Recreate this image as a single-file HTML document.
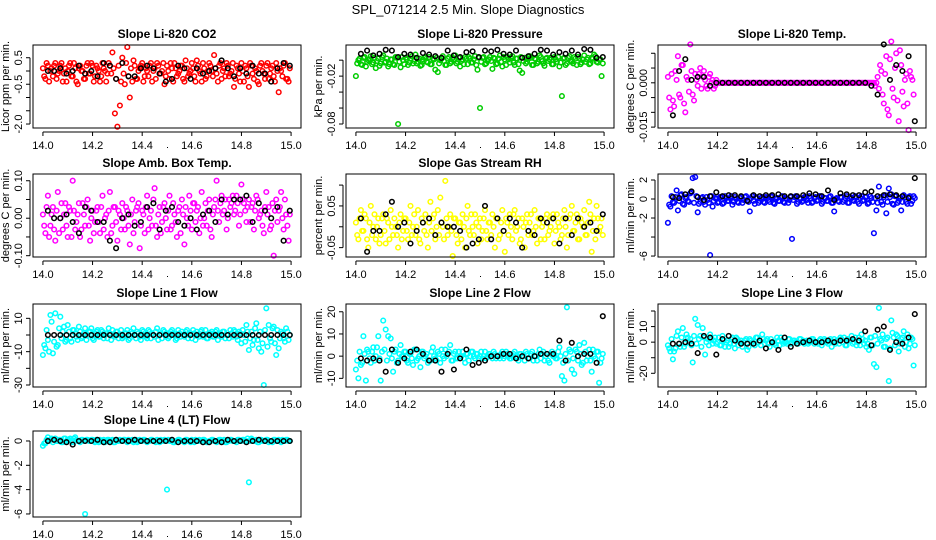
<!DOCTYPE html>
<html><head><meta charset="utf-8"><style>
html,body{margin:0;padding:0;background:#fff;}
svg{display:block;font-family:"Liberation Sans",Arial,sans-serif;}
</style></head><body>
<svg id="chart" width="936" height="540" viewBox="0 0 936 540">
<rect width="936" height="540" fill="#fff"/>
<text x="468" y="14" text-anchor="middle" font-size="13">SPL_071214  2.5 Min. Slope Diagnostics</text>
</svg>
<script>
const timeC = [14.00,14.01,14.02,14.03,14.04,14.05,14.06,14.07,14.08,14.09,14.10,14.11,14.12,14.13,14.14,14.15,14.16,14.17,14.18,14.19,14.20,14.21,14.22,14.23,14.24,14.25,14.26,14.27,14.28,14.29,14.30,14.31,14.32,14.33,14.34,14.35,14.36,14.37,14.38,14.39,14.40,14.41,14.42,14.43,14.44,14.45,14.46,14.47,14.48,14.49,14.50,14.51,14.52,14.53,14.54,14.55,14.56,14.57,14.58,14.59,14.60,14.61,14.62,14.63,14.64,14.65,14.66,14.67,14.68,14.69,14.70,14.71,14.72,14.73,14.74,14.75,14.76,14.77,14.78,14.79,14.80,14.81,14.82,14.83,14.84,14.85,14.86,14.87,14.88,14.89,14.90,14.91,14.92,14.93,14.94,14.95,14.96,14.97,14.98,14.99];
const timeC2 = [14.005,14.015,14.025,14.035,14.045,14.055,14.065,14.075,14.085,14.095,14.105,14.115,14.125,14.135,14.145,14.155,14.165,14.175,14.185,14.195,14.205,14.215,14.225,14.235,14.245,14.255,14.265,14.275,14.285,14.295,14.305,14.315,14.325,14.335,14.345,14.355,14.365,14.375,14.385,14.395,14.405,14.415,14.425,14.435,14.445,14.455,14.465,14.475,14.485,14.495,14.505,14.515,14.525,14.535,14.545,14.555,14.565,14.575,14.585,14.595,14.605,14.615,14.625,14.635,14.645,14.655,14.665,14.675,14.685,14.695,14.705,14.715,14.725,14.735,14.745,14.755,14.765,14.775,14.785,14.795,14.805,14.815,14.825,14.835,14.845,14.855,14.865,14.875,14.885,14.895,14.905,14.915,14.925,14.935,14.945,14.955,14.965,14.975,14.985,14.995];
const timeB = [14.02,14.045,14.07,14.095,14.12,14.145,14.17,14.195,14.22,14.245,14.27,14.295,14.32,14.345,14.37,14.395,14.42,14.445,14.47,14.495,14.52,14.545,14.57,14.595,14.62,14.645,14.67,14.695,14.72,14.745,14.77,14.795,14.82,14.845,14.87,14.895,14.92,14.945,14.97,14.995];
const xTicks = [14.0,14.2,14.4,14.6,14.8,15.0];
const xTickLabels = ["14.0","14.2","14.4","14.6","14.8","15.0"];

const co2C = [0.1,-0.3,0.2,0,-0.2,0.3,-0.1,0.2,-0.4,0.1,0,0.3,-0.2,0.1,-0.5,0.2,0,-0.3,0.3,-0.1,0.2,-0.2,0.1,-0.4,0.3,0,-0.1,0.2,0.7,-1.6,-2.1,-1.3,0.5,-0.5,0.9,-1.0,-0.4,0.2,-0.3,0.1,0.3,-0.2,0,0.2,-0.4,0.1,0.3,-0.1,0,-0.5,0.2,-0.3,0.1,0.3,-0.2,0,0.2,-0.4,0.1,-0.1,0.3,-0.2,0.4,0,-0.4,0.1,-0.2,0.3,0,0.6,-0.1,0.2,-0.3,0.1,0.3,-0.2,0,-0.6,0.2,-0.1,0.3,-0.4,0.1,-0.6,0.2,-0.3,0,-0.5,0.3,-0.1,0.2,-0.3,0.1,-0.2,0.3,-0.8,0,0.2,-0.3,-0.4];
const co2C2 = [-0.2,0.3,-0.4,0.1,0.2,-0.3,0,0.3,-0.1,-0.4,0.2,-0.2,0.3,-0.4,0.1,0,-0.3,0.2,-0.1,0.3,-0.4,0.2,0,-0.2,0.1,-0.4,0.3,-0.1,0.1,-0.3,0.2,-0.4,-0.1,0.3,-0.2,0.1,0.4,-0.3,0,0.2,-0.4,0.1,-0.2,0.3,0,-0.3,0.2,-0.1,0.3,-0.2,0,0.3,-0.4,0.1,-0.1,0.2,-0.3,0.4,-0.2,0,0.1,-0.4,0.2,-0.1,0.3,-0.3,0,0.2,-0.2,0.1,-0.4,0.3,0,-0.2,0.2,-0.1,0.3,-0.3,0.1,-0.4,0,0.2,-0.2,0.3,-0.1,0.1,-0.4,0.2,0,-0.3,0.3,-0.1,0.2,-0.4,0,0.1,-0.2,0.3,-0.3,0.1];
const co2B = [0,0,0.1,-0.1,0,0.2,-0.1,0,-0.2,0.3,0.2,-0.3,0.3,-0.2,-0.2,0.1,0.2,0.1,-0.1,-0.4,-0.3,0.2,0.1,-0.3,0.1,-0.1,0,0.1,0.4,0.1,-0.2,0.1,-0.1,0.2,-0.1,-0.1,-0.4,0.1,0.3,0.2];
const presC = [-0.02,0,-0.005,0.003,-0.008,0,0.005,-0.003,-0.01,0.002,-0.004,0.006,-0.002,-0.008,0.001,-0.005,0.004,-0.08,-0.009,0,0.003,-0.006,0.002,-0.004,0.007,-0.002,-0.007,0.001,0.004,-0.003,-0.005,0.002,-0.012,-0.015,0,0.005,-0.006,0.002,-0.004,0.003,0.006,-0.002,-0.008,0.001,0.004,-0.005,0.002,-0.003,0.005,-0.012,-0.06,0.003,-0.005,-0.001,0.004,-0.011,0.002,-0.004,0.006,-0.008,0.001,0.004,-0.003,0.005,-0.006,0.002,-0.013,-0.016,0.003,-0.002,0.005,-0.006,0.002,-0.004,0.006,-0.001,-0.007,0.003,0.001,-0.005,0.004,-0.002,-0.008,-0.045,0.003,-0.004,0.005,-0.002,0.004,-0.006,0.002,-0.003,0.006,0.001,-0.005,0.003,0.007,-0.002,0.001,-0.02];
const presC2 = [-0.004,0.002,-0.006,0.004,-0.002,0.001,-0.005,0.003,-0.001,-0.007,0.004,-0.003,0.002,-0.005,0.001,-0.006,0.003,-0.002,0.004,-0.005,0.001,-0.003,0.005,-0.001,-0.004,0.002,-0.006,0.003,-0.002,0.004,-0.005,0.001,0.003,-0.004,0.002,-0.001,-0.006,0.004,-0.002,0.001,-0.004,0.003,-0.001,-0.005,0.002,0.004,-0.003,0.001,-0.006,0.003,-0.002,0.004,-0.004,0.001,-0.001,0.003,-0.005,0.002,-0.002,0.004,-0.006,0.001,0.003,-0.003,0.002,-0.005,0.004,-0.001,-0.004,0.002,0.003,-0.006,0.001,-0.002,0.004,-0.004,0.002,-0.001,0.003,-0.005,0.001,0.004,-0.003,0.002,-0.006,0.003,-0.001,-0.004,0.002,0.004,-0.005,0.001,-0.002,0.003,-0.004,0.002,0.005,-0.003,0.001,-0.004];
const presB = [0.008,0.012,0.006,0.008,0.013,0.012,0.004,0.008,0.007,0.003,0.009,0.007,0.005,0.003,0.012,0.006,0.004,0.01,0.011,0.004,0.012,0.011,0.013,0.008,0.007,0.012,0.003,0.005,0.008,0.013,0.012,0.007,0.01,0.008,0.012,0.007,0.014,0.013,0.003,0.004];
const tempC = [0.002,-0.009,-0.006,0.004,0.009,-0.005,0.006,-0.01,0.001,0.013,-0.004,0.003,-0.001,0.005,0.002,0.001,-0.002,0.003,0.001,-0.001,0,0,0,0,0,0,0,0,0,0,0,0,0,0,0,0,0,0,0,0,0,0,0,0,0,0,0,0,0,0,0,0,0,0,0,0,0,0,0,0,0,0,0,0,0,0,0,0,0,0,0,0,0,0,0,0,0,0,0,0,0,0,0,0,0,-0.002,0.004,-0.007,0.009,-0.011,0.014,-0.005,0.01,-0.013,0.006,-0.008,0.003,-0.016,0.002,-0.004];
const tempC2 = [-0.005,0.003,-0.008,0.001,-0.004,0.006,-0.007,0.002,-0.003,0.004,-0.006,0.001,0.003,-0.002,0.004,-0.001,0.002,0,-0.002,0.001,0,0,0,0,0,0,0,0,0,0,0,0,0,0,0,0,0,0,0,0,0,0,0,0,0,0,0,0,0,0,0,0,0,0,0,0,0,0,0,0,0,0,0,0,0,0,0,0,0,0,0,0,0,0,0,0,0,0,0,0,0,0,0,-0.001,0.002,0.006,-0.004,0.003,-0.009,0.008,-0.002,0.005,-0.006,0.011,-0.003,0.001,-0.007,0.004,0.001];
const tempB = [-0.011,0.004,0.008,0.001,0.002,0.002,-0.001,0,0,0,0,0,0,0,0,0,0,0,0,0,0,0,0,0,0,0,0,0,0,0,0,0,-0.001,-0.004,0.013,0.001,0.006,0.004,0.009,-0.013];
const ambC = [0.01,-0.04,0.06,-0.02,0.03,-0.06,0.07,0,-0.03,0.04,-0.05,0.02,0.1,-0.03,0.01,-0.05,0.04,-0.02,0.05,-0.06,0.02,-0.01,0.03,-0.04,0.06,0,-0.05,0.07,-0.02,0.03,-0.06,0.01,0.04,-0.03,0.02,-0.07,0.05,-0.01,0.03,-0.08,0.02,-0.04,0.06,0,-0.02,0.08,-0.05,0.03,-0.01,0.04,-0.03,0.06,-0.02,0.01,-0.05,0.03,0.05,-0.07,0,0.06,-0.03,0.04,0.02,-0.04,0.07,0,-0.02,0.05,-0.05,0.03,0.1,-0.01,0.06,0.02,-0.03,0.05,0.04,0.01,0.06,-0.02,0.09,0.04,-0.01,0.05,0.03,-0.03,0.06,0,0.02,-0.04,0.07,0.03,-0.02,-0.1,0.05,0.02,0.07,-0.03,0.01,-0.06];
const ambC2 = [-0.02,0.03,-0.05,0.01,-0.03,0.02,-0.04,0.04,0.01,-0.02,0.03,-0.05,0.02,-0.01,0.04,-0.03,0.01,0.03,-0.02,0,-0.04,0.02,-0.01,0.03,-0.03,0.01,0.02,-0.04,0.03,-0.01,0.02,-0.03,0,0.03,-0.02,0.01,-0.04,0.02,0.04,-0.02,0.01,0.03,-0.03,0.02,0.05,-0.02,0.01,-0.04,0.03,0,0.02,-0.03,0.04,-0.01,0.02,-0.04,0.01,0.03,-0.02,0.02,0.04,-0.01,0.03,0,-0.02,0.04,0.02,-0.03,0.01,0.05,0.02,0.04,0.01,0.05,0,0.03,0.06,0.02,0.04,0.01,0.05,0.02,0.03,-0.01,0.04,0.02,0.05,0.01,-0.02,0.03,0.01,-0.03,0.04,0.02,-0.01,0.03,0,0.05,-0.02,0.01];
const ambB = [0.02,0,0,0.01,-0.01,-0.04,0.03,0.02,-0.01,-0.01,-0.06,-0.08,0,0.01,-0.02,-0.01,0.03,0.04,-0.03,0.02,0.03,-0.01,-0.02,0,-0.03,0.01,0.02,-0.01,0.05,0.01,0.05,0.05,0.06,-0.01,0.04,0.02,0,0.03,-0.06,0.02];
const rhC = [0.01,-0.03,0.04,-0.01,0.02,-0.05,0.05,0,-0.03,0.02,-0.02,0.03,-0.04,0.01,0.04,-0.02,0,-0.05,0.03,-0.01,0.02,-0.03,0.05,0,-0.02,0.04,-0.04,0.01,0.03,-0.05,0.06,0.02,-0.03,0.04,0.07,0,0.11,-0.02,0.03,-0.07,0.02,-0.04,0.01,0.03,-0.05,0.05,-0.02,0,0.03,-0.04,0.02,-0.01,0.04,-0.03,0.01,0.03,-0.05,0.02,-0.02,0.04,-0.06,0.01,0.03,-0.03,0.04,0,-0.04,0.02,-0.05,0.03,0.01,-0.02,0.04,-0.04,0.02,0,-0.03,0.03,-0.01,0.02,-0.04,0.03,0,-0.02,0.04,-0.05,0.02,0.05,-0.01,0.03,-0.03,0.01,0.04,-0.02,0.06,-0.06,0.02,0.05,-0.01,0.02];
const rhC2 = [-0.02,0.02,-0.01,0.03,-0.03,0.01,-0.02,0.03,0,-0.04,0.02,-0.01,0.02,-0.03,0,0.02,-0.02,0.01,-0.03,0.02,-0.01,0.01,-0.02,0.03,0,-0.03,0.02,-0.01,-0.02,0.01,-0.01,0.03,0,-0.02,0.01,-0.03,0.02,0,-0.01,0.02,-0.02,0.01,-0.03,0,0.02,-0.01,0.03,-0.02,0.01,0,-0.03,0.02,-0.01,0.01,-0.02,0,0.02,-0.03,0.01,-0.01,0.02,-0.02,0,0.03,-0.01,0.02,-0.03,0,0.01,-0.02,0.03,-0.01,0,0.02,-0.03,0.01,0.02,-0.02,0,0.03,-0.01,0.01,-0.03,0.02,0,-0.02,0.03,-0.01,0.01,-0.03,0.02,0,-0.02,0.01,0.03,-0.01,-0.03,0.02,0,-0.02];
const rhB = [0.02,-0.06,-0.01,-0.01,0.03,0.06,0,0.01,-0.04,-0.01,0.01,0.02,-0.02,0.01,0,0,-0.01,-0.05,-0.04,-0.03,0.05,-0.03,0.02,-0.01,0.02,0.01,-0.05,-0.01,-0.02,0.02,0.01,0.02,-0.04,0.02,-0.02,0.02,0,0.01,-0.01,0.03];
const flowC = [-2.5,-0.8,-0.3,0.2,-1.2,0.4,-0.5,0.1,-0.2,0.6,2.2,2.3,-1.4,-0.3,0.2,-0.6,-0.1,-5.9,-0.8,0.1,-0.4,0.2,-0.5,0.3,-0.2,0.1,-0.6,0.2,-0.3,0.1,-0.4,0.2,-0.1,-1.3,0.3,-0.5,0.1,-0.2,0.2,-0.4,0.1,-0.3,0.2,-0.5,0.1,-0.2,0.3,-0.4,0,-0.1,-4.2,0.2,-0.5,0.1,-0.3,0.2,-0.1,0.3,-0.4,0.1,-0.2,0.3,-0.5,0.1,-0.2,0.2,-0.4,-1.3,0.1,-0.3,0.2,-0.1,0.3,-0.4,0.1,-0.2,0.2,-0.5,0.3,-0.1,0.2,-0.4,0.1,-3.6,-1.2,1.3,-0.3,0.2,-1.5,1.1,0.5,-0.6,0.3,-0.2,-1.2,0.4,-0.3,0.2,-0.5,0.3];
const flowC2 = [-0.6,0.3,-0.4,0.9,-0.2,0.5,-0.6,0.2,-0.3,0.7,-0.4,0.3,-0.5,0.1,-0.3,0.2,-0.4,0.3,-0.2,0,-0.3,0.2,-0.4,0.1,-0.2,0.3,-0.3,0,-0.4,0.2,-0.1,0.3,-0.3,0.1,-0.2,0.2,-0.4,0.1,-0.3,0.2,-0.1,0.3,-0.4,0,-0.2,0.2,-0.3,0.1,-0.4,0.2,-0.1,0.3,-0.3,0,-0.2,0.2,-0.4,0.1,-0.3,0.2,-0.1,0.3,-0.3,0.1,-0.2,0.3,-0.4,0,-0.2,0.2,-0.3,0.1,-0.4,0.2,-0.1,0.3,-0.3,0.1,-0.2,0.2,-0.5,0.3,-0.3,0.1,-0.4,0.2,-0.6,0.4,-0.3,0.2,-0.5,0.3,-0.4,0.1,-0.3,0.2,-0.5,0.3,-0.2,0.1];
const flowB = [0.2,0.1,0.5,0.8,0.2,-0.1,0.3,0.7,0.3,0.4,0.4,0.3,-0.2,0.4,0.3,0.4,0.4,0.5,0.3,0.3,0.3,0.4,0.6,0.5,0.3,0.9,-0.1,0.6,0.5,0.4,0.4,0.7,0.8,0.3,0.4,0.5,0.4,0.3,0.1,2.2];
const line1C = [-12,-8,-3,12,-11,13,-6,11,2,-4,6,-2,3,1,-3,2,-1,4,0,2,-2,1,3,-1,2,0,-2,1,3,-1,2,0,-2,1,3,-2,1,0,2,-1,3,0,-2,2,1,-1,4,0,-2,2,1,-1,3,0,-2,1,2,-1,3,0,-2,1,2,-1,3,0,-2,1,2,-1,3,0,-1,2,0,-2,1,3,-1,2,-5,0,6,-9,2,-3,7,-8,-10,-30,16,6,-4,5,-12,-8,2,-2,4,-3];
const line1C2 = [-6,3,-10,8,-4,-7,4,-2,5,-3,2,-4,3,-1,5,-2,1,-3,2,4,-3,2,-1,3,-2,1,4,-3,0,2,-2,3,-1,1,-3,2,4,-2,1,-3,2,-1,3,-2,0,2,-3,1,3,-1,-2,2,1,-3,3,-1,0,2,-2,1,3,-3,0,2,-1,3,-2,1,-1,2,-3,1,2,-2,0,3,-1,2,-3,1,3,-4,2,-2,-6,4,-3,2,-5,3,-7,-2,4,-5,3,-2,1,-4,2,0];
const line1B = [0,0,0,0,0,0,0,0,0,0,0,0,0,0,0,0,0,0,0,0,0,0,0,0,0,0,0,0,0,0,0,0,0,0,0,0,0,0,0,0];
const line2C = [-6,-10,-4,9,-11,2,-3,4,0,9,-11,16,12,9,8,-7,3,-2,5,0,2,-3,1,-4,3,-1,-5,2,0,-3,-2,4,-1,2,-3,0,3,1,5,-2,2,-1,0,2,-3,1,0,2,-1,1,0,-1,2,0,1,-1,1,0,-1,2,0,1,-1,0,2,-1,1,0,-2,1,-1,2,0,-2,3,1,-2,1,-3,2,0,-1,4,-9,-11,22,3,-6,-8,2,5,-4,6,-2,3,-7,0,2,-12,-1];
const line2C2 = [-2,2,-3,1,3,-1,2,-2,4,-1,2,3,-2,1,-1,2,-3,1,0,2,-2,1,-1,3,-2,0,2,-1,1,-2,2,0,-2,1,3,-1,0,2,-2,1,-1,2,0,-1,1,-2,2,0,1,-1,2,0,-1,1,0,2,-1,0,1,-1,2,0,-1,1,0,-2,1,0,2,-1,1,-2,0,1,-1,2,0,-2,1,0,-1,2,0,-3,1,-2,2,-1,3,-2,1,-3,2,0,-2,3,-1,2,-3,1];
const line2B = [-1,-2,-1,-2,-7,3,-3,-1,2,3,1,-2,-2,-7,1,-6,-1,3,-4,-3,-2,0,0,1,1,-1,0,-1,0,1,1,1,7,-2,6,0,1,1,-3,18];
const line3C = [-2,-6,-11,-4,7,-3,9,-1,3,2,-13,15,11,4,9,-8,2,5,-1,3,0,-2,4,-3,1,-1,3,-4,2,0,-3,1,-5,2,0,-2,3,1,5,-1,2,-3,0,-1,3,-2,1,0,-1,2,0,1,-1,2,0,-1,1,0,2,-1,0,1,-2,2,0,1,-3,2,1,-1,2,3,-2,1,4,0,-2,3,5,-1,-3,-5,3,-14,-16,22,1,-3,2,-25,14,3,5,-6,2,7,0,-4,3,-15];
const line3C2 = [-4,2,-6,4,-1,3,-3,5,0,-2,4,-1,2,-3,3,0,-2,2,1,-1,3,-2,1,0,-3,2,-1,3,-2,1,0,2,-3,1,-1,3,0,-2,2,1,-1,2,0,-2,1,3,-1,0,2,-1,1,0,-1,2,1,0,-1,1,2,0,-1,2,0,1,-1,2,0,-1,1,3,0,-2,2,1,-1,3,0,-2,2,1,-1,3,-2,4,-1,2,5,-3,3,-4,6,-2,4,-1,3,-3,5,-1,2,-2];
const line3B = [-1,-1,0,-1,-7,4,3,-8,2,4,1,-1,-1,-1,1,-4,0,-5,3,-3,-1,0,1,0,0,1,0,1,1,2,1,7,-2,8,10,-5,0,-1,3,18];
const line4C = [-0.4,-0.2,0.3,0.1,-0.1,0.2,0,0.1,-0.1,0.2,0.1,0.2,-0.1,0.3,0,-0.1,0.1,-6,0.1,0,0.1,-0.1,0,0.1,0,-0.1,0.1,0,0.1,-0.1,0,0.1,0,0.1,-0.1,0,0.1,0,-0.1,0.1,0,0.1,-0.1,0,0.1,0,0.1,-0.1,0,0.1,-4,0,0.1,-0.1,0,0.1,0,-0.1,0.1,0,0.1,-0.1,0,0.1,0,0.1,-0.1,0,0.1,0,-0.1,0.1,0,0.1,-0.1,0,0.1,0,-0.1,0.1,0,0.1,0,-3.4,0.2,0,0.1,-0.1,0.1,0,0.1,-0.1,0,0.1,0,0.1,-0.1,0,0.1,0];
const line4C2 = [-0.2,0.1,0,0.2,0.1,0,0.1,-0.1,0.2,0,0.1,0,0.2,0.1,0,0.1,0,0.1,0,0.1,0,0.1,-0.1,0,0.1,0,0.1,0,-0.1,0.1,0,0,0.1,0,0.1,0,-0.1,0.1,0,0,0.1,0,0,0.1,0,-0.1,0,0.1,0,0,0.1,0,-0.1,0,0.1,0,0,0.1,0,-0.1,0,0.1,0,0,0.1,0,-0.1,0,0.1,0,0,0.1,0,-0.1,0,0.1,0,0,0.1,0,0.1,0,0.2,0,0.1,0,-0.1,0.1,0,0,0.1,0,-0.1,0.1,0,0,0.1,0,0.1,0];
const line4B = [0,0.1,0,-0.1,-0.3,0,0,0,0.1,-0.1,-0.1,0.1,0,0,0.1,0,0,0,0,0,0.1,-0.1,0,0,0,-0.1,-0.1,0,-0.1,0.1,0,0,-0.1,0,0.1,0,0,0,0,0];

const co2Ticks=[0.5,0,-0.5,-1.0,-1.5,-2.0], co2Labels=["0.5","","-0.5","","","-2.0"];
const presTicks=[0,-0.02,-0.04,-0.06,-0.08], presLabels=["","-0.02","","","-0.08"];
const tempTicks=[0.01,0.005,0,-0.005,-0.01,-0.015], tempLabels=["","","0.000","","","-0.015"];
const ambTicks=[0.1,0.05,0,-0.05,-0.1], ambLabels=["0.10","","0.00","","-0.10"];
const rhTicks=[0.1,0.05,0,-0.05], rhLabels=["","0.05","","-0.05"];
const flowTicks=[2,0,-2,-4,-6], flowLabels=["2","0","-2","","-6"];
const line1Ticks=[10,0,-10,-20,-30], line1Labels=["10","","-10","","-30"];
const line2Ticks=[20,10,0,-10], line2Labels=["20","10","0","-10"];
const line3Ticks=[20,10,0,-10,-20], line3Labels=["","10","0","","-20"];
const line4Ticks=[0,-2,-4,-6], line4Labels=["0","-2","-4","-6"];

const panels = [
 {name:"co2",title:"Slope Li-820 CO2",ylab:"Licor ppm per min.",col:0,row:0,ymin:-2.15,ymax:0.98,c:co2C,c2:co2C2,b:co2B,color:"#ff0000",ticks:co2Ticks,labels:co2Labels},
 {name:"pressure",title:"Slope Li-820 Pressure",ylab:"kPa per min.",col:1,row:0,ymin:-0.085,ymax:0.019,c:presC,c2:presC2,b:presB,color:"#00cc00",ticks:presTicks,labels:presLabels},
 {name:"temp",title:"Slope Li-820 Temp.",ylab:"degrees C per min.",col:2,row:0,ymin:-0.0153,ymax:0.0128,c:tempC,c2:tempC2,b:tempB,color:"#ff00ff",ticks:tempTicks,labels:tempLabels},
 {name:"amb-box-temp",title:"Slope Amb. Box Temp.",ylab:"degrees C per min.",col:0,row:1,ymin:-0.1035,ymax:0.118,c:ambC,c2:ambC2,b:ambB,color:"#ff00ff",ticks:ambTicks,labels:ambLabels},
 {name:"gas-stream-rh",title:"Slope Gas Stream RH",ylab:"percent per min.",col:1,row:1,ymin:-0.0725,ymax:0.1266,c:rhC,c2:rhC2,b:rhB,color:"#ffff00",ticks:rhTicks,labels:rhLabels},
 {name:"sample-flow",title:"Slope Sample Flow",ylab:"ml/min per min.",col:2,row:1,ymin:-6.1,ymax:2.63,c:flowC,c2:flowC2,b:flowB,color:"#0000ff",ticks:flowTicks,labels:flowLabels},
 {name:"line1-flow",title:"Slope Line 1 Flow",ylab:"ml/min per min.",col:0,row:2,ymin:-31.2,ymax:18.6,c:line1C,c2:line1C2,b:line1B,color:"#00ffff",ticks:line1Ticks,labels:line1Labels},
 {name:"line2-flow",title:"Slope Line 2 Flow",ylab:"ml/min per min.",col:1,row:2,ymin:-13.9,ymax:23.5,c:line2C,c2:line2C2,b:line2B,color:"#00ffff",ticks:line2Ticks,labels:line2Labels},
 {name:"line3-flow",title:"Slope Line 3 Flow",ylab:"ml/min per min.",col:2,row:2,ymin:-28.8,ymax:24.5,c:line3C,c2:line3C2,b:line3B,color:"#00ffff",ticks:line3Ticks,labels:line3Labels},
 {name:"line4-flow",title:"Slope Line 4 (LT) Flow",ylab:"ml/min per min.",col:0,row:3,ymin:-6.25,ymax:0.82,c:line4C,c2:line4C2,b:line4B,color:"#00ffff",ticks:line4Ticks,labels:line4Labels}
];
const colLeft=[33,346,658], boxW=268;
const rowTop=[45,174,304,431], rowBot=[128,257,387,517];

const NS="http://www.w3.org/2000/svg";
const svg=document.getElementById("chart");
function mk(tag,attrs,parent){const e=document.createElementNS(NS,tag);for(const k in attrs)e.setAttribute(k,attrs[k]);(parent||svg).appendChild(e);return e;}

panels.forEach(p=>{
  const L=colLeft[p.col], T=rowTop[p.row], B=rowBot[p.row], R=L+boxW;
  const xs=v=>L+(v-13.96)/(15.04-13.96)*boxW;
  const ys=v=>B-(v-p.ymin)/(p.ymax-p.ymin)*(B-T);
  const g=mk("g",{});
  
  
  const t=mk("text",{x:(L+R)/2,y:T-7,"text-anchor":"middle","font-size":"12","font-weight":"bold"},g);
  t.textContent=p.title;
  
  
  const pts=mk("g",{fill:"none","stroke-width":"1.5"},g);
  
  
  p.c.forEach((v,i)=>{const c=mk("circle",{cx:xs(timeC[i]).toFixed(1),cy:ys(v).toFixed(1),r:2.3,stroke:p.color},pts);
    
    });
  p.c2.forEach((v,i)=>{const c=mk("circle",{cx:xs(timeC2[i]).toFixed(1),cy:ys(v).toFixed(1),r:2.3,stroke:p.color},pts);
    
    });
  p.b.forEach((v,i)=>{const c=mk("circle",{cx:xs(timeB[i]).toFixed(1),cy:ys(v).toFixed(1),r:2.3,stroke:"#000"},pts);
    
    });
  const box=mk("rect",{x:L,y:T,width:boxW,height:B-T,fill:"none",stroke:"#000","stroke-width":"1"},g);
  
  
  const xa=mk("g",{stroke:"#000","stroke-width":"1"},g);
  
  
  mk("line",{x1:xs(xTicks[0]),x2:xs(xTicks[xTicks.length-1]),y1:B+4,y2:B+4},xa);
  xTicks.forEach((v,i)=>{mk("line",{x1:xs(v),x2:xs(v),y1:B+4,y2:B+8},xa);
    const lt=mk("text",{x:xs(v),y:B+21,"text-anchor":"middle","font-size":"11",stroke:"none"},g);
    lt.textContent=xTickLabels[i];
    
    });
  const ya=mk("g",{stroke:"#000","stroke-width":"1"},g);
  
  
  mk("line",{x1:L-3,x2:L-3,y1:ys(p.ticks[0]),y2:ys(p.ticks[p.ticks.length-1])},ya);
  p.ticks.forEach((v,i)=>{const y=ys(v);mk("line",{x1:L-7,x2:L-3,y1:y,y2:y},ya);
    if(p.labels[i]){const lt=mk("text",{x:0,y:0,transform:`translate(${L-11},${y}) rotate(-90)`,"text-anchor":"middle","font-size":"11"},g);
      lt.textContent=p.labels[i];
      
      }});
  const yl=mk("text",{x:0,y:0,transform:`translate(${L-24},${(T+B)/2}) rotate(-90)`,"text-anchor":"middle","font-size":"11"},g);
  yl.textContent=p.ylab;
  
  
  const dot=mk("rect",{x:(L+R)/2,y:B+19,width:1,height:1,fill:"#000"},g);
  
  
});
</script>
</body></html>
